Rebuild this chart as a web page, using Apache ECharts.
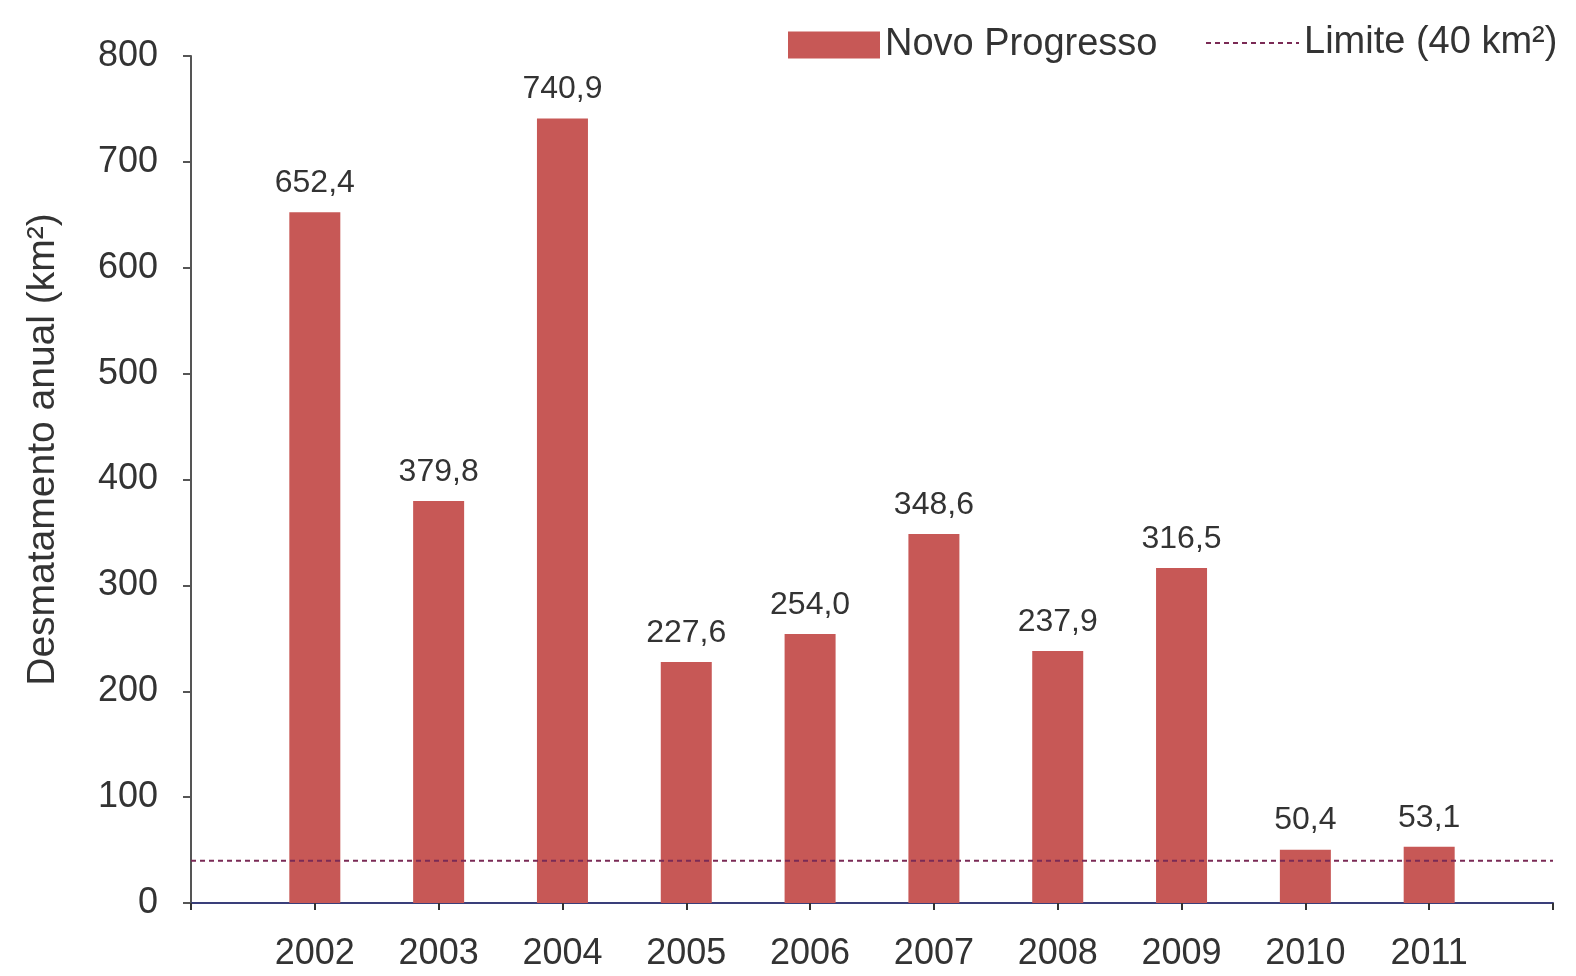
<!DOCTYPE html>
<html>
<head>
<meta charset="utf-8">
<script src="https://cdn.jsdelivr.net/npm/echarts@6/dist/echarts.min.js"></script>
<style>
  html, body { margin: 0; padding: 0; background: #fff; }
  #chart { width: 1576px; height: 976px; }
</style>
</head>
<body>
<div id="chart"></div>
<script>
// anos (com posições vazias nas pontas, como no original)
const years = ['', '2002', '2003', '2004', '2005', '2006', '2007', '2008', '2009', '2010', '2011', '']
// desmatamento anual em km²
const desmatamento = [null, 652.4, 379.8, 740.9, 227.6, 254.0, 348.6, 237.9, 316.5, 50.4, 53.1, null]
// limite de 40 km²
const limite = [40, 40, 40, 40, 40, 40, 40, 40, 40, 40, 40, 40]
const yTicks = { min: 0, max: 800, interval: 100 }

const font = 'Arial, "Liberation Sans", sans-serif'
const chart = echarts.init(document.getElementById('chart'))

chart.setOption({
  animation: false,
  backgroundColor: '#fff',
  textStyle: { fontFamily: font },
  grid: {
    left: 191,
    right: 23,
    top: 56,
    bottom: 73
  },
  legend: [
    {
      data: ['Novo Progresso'],
      left: 783,
      top: 21,
      icon: 'rect',
      itemWidth: 92,
      itemHeight: 27,
      itemGap: 8,
      textStyle: { fontSize: 38, color: '#333', fontFamily: font }
    },
    {
      data: ['Limite (40 km²)'],
      left: 1200,
      top: 19,
      itemWidth: 93,
      itemHeight: 30,
      itemStyle: { opacity: 0 },
      textStyle: { fontSize: 38, color: '#333', fontFamily: font }
    }
  ],
  xAxis: {
    type: 'category',
    data: years,
    boundaryGap: false,
    axisLine: { lineStyle: { color: '#3a3f7a', width: 2 } },
    axisTick: { show: true, length: 7, lineStyle: { color: '#333', width: 2 } },
    axisLabel: { fontSize: 36, color: '#333', margin: 33, fontFamily: font },
    splitLine: { show: false }
  },
  yAxis: {
    type: 'value',
    min: yTicks.min,
    max: yTicks.max,
    interval: yTicks.interval,
    name: 'Desmatamento anual (km²)',
    nameLocation: 'middle',
    nameRotate: 90,
    nameGap: 128,
    nameTextStyle: { fontSize: 39, color: '#333', fontFamily: font, padding: [0, 0, 0, 60] },
    axisLine: { show: true, lineStyle: { color: '#555', width: 2 } },
    axisTick: { show: true, inside: false, length: 8, lineStyle: { color: '#555', width: 2 } },
    axisLabel: { fontSize: 36, color: '#333', margin: 33, fontFamily: font },
    splitLine: { show: false }
  },
  series: [
    {
      name: 'Novo Progresso',
      type: 'bar',
      data: desmatamento,
      barWidth: 51,
      itemStyle: { color: '#c75856' },
      label: {
        show: true,
        position: 'top',
        distance: 13,
        fontSize: 32,
        color: '#333',
        fontFamily: font,
        formatter: function(params) {
          return params.value.toFixed(1).replace('.', ',')
        }
      },
      z: 2
    },
    {
      name: 'Limite (40 km²)',
      type: 'line',
      data: limite,
      symbol: 'none',
      showSymbol: false,
      itemStyle: { color: '#7a2a55' },
      lineStyle: { color: '#7a2a55', width: 2, type: [5, 4] },
      z: 3
    }
  ]
})
</script>
</body>
</html>
